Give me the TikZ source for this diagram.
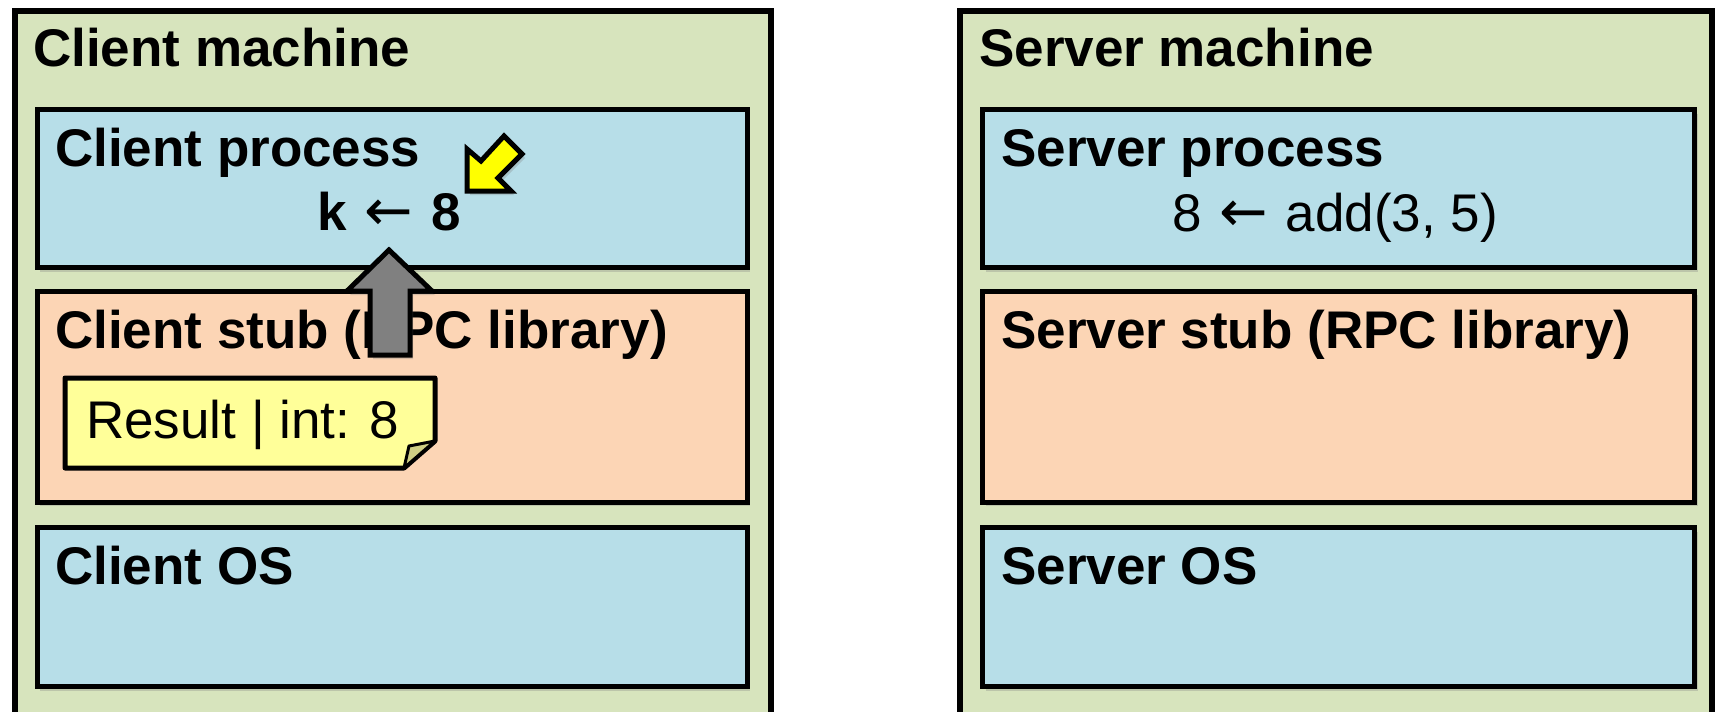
\documentclass[tikz,border=0pt]{standalone}
\usepackage{fontspec}
\setmainfont{Liberation Sans}
\newfontfamily\arrowfont{DejaVu Sans}
\usetikzlibrary{shadows}
\definecolor{machinegreen}{HTML}{D7E4BD}
\definecolor{procblue}{HTML}{B7DEE8}
\definecolor{stubpeach}{HTML}{FCD5B5}
\definecolor{noteyellow}{HTML}{FFFF99}
\definecolor{notefold}{HTML}{CFCF85}
\definecolor{arrowyellow}{HTML}{FFFF00}
\definecolor{arrowgray}{HTML}{808080}
\newcommand{\larr}{\hspace{3pt}{\arrowfont\mdseries\fontsize{58}{60}\selectfont ←}\hspace{3pt}}
\tikzset{
  machine/.style={draw=black, line width=6pt, fill=machinegreen, anchor=north west, inner sep=0pt, minimum width=#1},
  layer/.style={draw=black, line width=5pt, anchor=north west, inner sep=0pt,
    drop shadow={opacity=0.3, shadow xshift=3pt, shadow yshift=-4pt}},
  proc/.style={layer, fill=procblue},
  stub/.style={layer, fill=stubpeach},
  title/.style={anchor=base west, inner sep=0pt, font=\fontsize{53}{60}\selectfont\bfseries},
  body/.style={anchor=base, inner sep=0pt, font=\fontsize{53}{60}\selectfont},
  blockarrow/.style={draw=black, line width=5pt, line join=miter,
    drop shadow={opacity=0.3, shadow xshift=3pt, shadow yshift=-4pt}},
}
\begin{document}
\begin{tikzpicture}[x=1pt, y=-1pt]
\useasboundingbox (0,0) rectangle (1716,712);
% machines
\node[machine=756pt, minimum height=704pt] (cm) at (12,8) {};
\node[machine=752pt, minimum height=704pt] (sm) at (957,8) {};
\node[title] (cmt) at (33,66) {Client machine};
\node[title] (smt) at (979,66) {Server machine};
% client layers
\node[proc, minimum width=710pt, minimum height=158pt] (cp) at (34.5,107) {};
\node[stub, minimum width=710pt, minimum height=211pt] (cs) at (34.5,288.5) {};
\node[proc, minimum width=710pt, minimum height=159pt] (cos) at (34.5,525) {};
% server layers
\node[proc, minimum width=712pt, minimum height=158pt] (sp) at (980,107) {};
\node[stub, minimum width=712pt, minimum height=211pt] (ss) at (980,288.5) {};
\node[proc, minimum width=712pt, minimum height=159pt] (sos) at (980,525) {};
% labels
\node[title] (cpt) at (55,166) {Client process};
\node[title] (cst) at (55,348) {Client stub (RPC library)};
\node[title] (cost) at (55,584) {Client OS};
\node[title] (spt) at (1001,166) {Server process};
\node[title] (sst) at (1001,348) {Server stub (RPC library)};
\node[title] (sost) at (1001,584) {Server OS};
\node[body, font=\fontsize{53}{60}\selectfont\bfseries] (kval) at (389,230) {k \larr\ 8};
\node[body] (add) at (1335,231) {8 \larr\ add(3, 5)};
% note
\draw[line width=5pt, line join=round, fill=noteyellow] (65,378) -- (435,378) -- (435,441) -- (404,468) -- (65,468) -- cycle;
\draw[line width=3pt, line join=round, fill=notefold] (435,441) -- (404,468) -- (409,446) -- cycle;
\node[anchor=base west, inner sep=0pt, font=\fontsize{53}{60}\selectfont] (note) at (86,438) {Result | int: 8};
% gray up arrow
\draw[blockarrow, fill=arrowgray] (389,250) -- (432,291) -- (410,291) -- (410,355) -- (370,355) -- (370,291) -- (347,291) -- cycle;
% yellow arrow
\draw[blockarrow, fill=arrowyellow] (467,191) -- (467,149) -- (481,161) -- (504,136) -- (522,154) -- (498,178) -- (511,191) -- cycle;
\end{tikzpicture}
\end{document}
